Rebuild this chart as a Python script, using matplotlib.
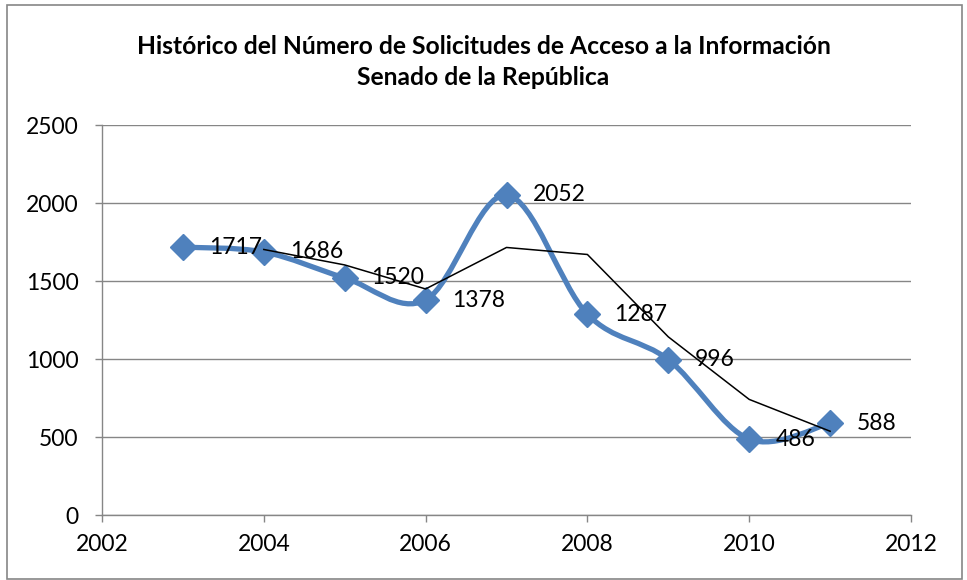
import matplotlib
matplotlib.use("Agg")
import matplotlib.pyplot as plt
from matplotlib.path import Path
from matplotlib.patches import PathPatch, Rectangle
import numpy as np

# Datos
years = [2003, 2004, 2005, 2006, 2007, 2008, 2009, 2010, 2011]
requests = [1717, 1686, 1520, 1378, 2052, 1287, 996, 486, 588]

# Promedio móvil (2 periodos) tal como aparece en la gráfica
avg_years = [2004, 2005, 2006, 2007, 2008, 2009, 2010, 2011]
avg_values = [1702, 1603, 1449, 1715, 1670, 1142, 741, 537]

title = ("Histórico del Número de Solicitudes de Acceso a la Información\n"
         "Senado de la República")

BLUE = "#4F81BD"
GRAY = "#868686"
FONT = "Lato"


def smooth_path(xs, ys):
    """Curva suavizada tipo Excel (Bezier con tangentes Catmull-Rom)."""
    pts = np.column_stack([xs, ys]).astype(float)
    n = len(pts)
    verts = [pts[0]]
    codes = [Path.MOVETO]
    for i in range(n - 1):
        p0 = pts[i - 1] if i > 0 else pts[i]
        p1 = pts[i]
        p2 = pts[i + 1]
        p3 = pts[i + 2] if i + 2 < n else pts[i + 1]
        c1 = p1 + (p2 - p0) / 6.0
        c2 = p2 - (p3 - p1) / 6.0
        verts += [c1, c2, p2]
        codes += [Path.CURVE4] * 3
    return Path(verts, codes)


fig = plt.figure(figsize=(9.67, 5.8), dpi=100)
ax = fig.add_axes([102 / 967, 1 - 515 / 580, (911 - 102) / 967, (515 - 125) / 580])

# marco exterior
fig.patches.append(Rectangle((7 / 967, 1 / 580), 955 / 967, 574 / 580,
                             transform=fig.transFigure, fill=False,
                             edgecolor=GRAY, linewidth=1.2))

ax.add_patch(PathPatch(smooth_path(years, requests), fill=False,
                       edgecolor=BLUE, linewidth=3.8, capstyle="round",
                       joinstyle="round", zorder=3))
ax.plot(years, requests, linestyle="none", marker="D", markersize=13,
        color=BLUE, zorder=4)
ax.plot(avg_years, avg_values, color="black", linewidth=1.1, zorder=5)

for x, y in zip(years, requests):
    ax.annotate(str(y), (x, y), xytext=(19, 0), textcoords="offset points",
                ha="left", va="center", fontsize=16.5, family=FONT, zorder=6)

ax.set_xlim(2002, 2012)
ax.set_ylim(0, 2500)
ax.set_xticks(range(2002, 2013, 2))
ax.set_yticks(range(0, 2501, 500))
ax.grid(axis="y", color=GRAY, linewidth=1.0)
ax.set_axisbelow(True)
for side in ["top", "right"]:
    ax.spines[side].set_visible(False)
for side in ["left", "bottom"]:
    ax.spines[side].set_color(GRAY)
    ax.spines[side].set_linewidth(1.0)
ax.tick_params(axis="both", colors=GRAY, length=5, width=1.0,
               labelcolor="black", labelsize=16.5)
ax.tick_params(axis="y", pad=12)
ax.tick_params(axis="x", pad=9)
for lab in ax.get_xticklabels() + ax.get_yticklabels():
    lab.set_family(FONT)

fig.text(0.5, 1 - 62 / 580, title, ha="center", va="center", fontsize=17.7,
         fontweight="bold", family=FONT, linespacing=1.45)

fig.savefig("out.png", dpi=100)
